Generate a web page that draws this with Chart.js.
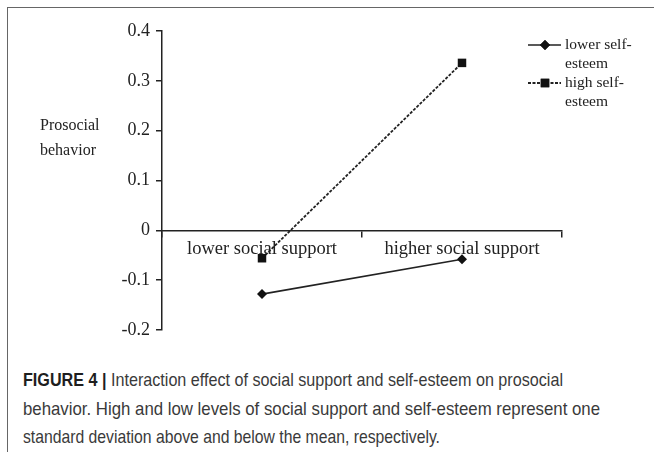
<!DOCTYPE html>
<html>
<head>
<meta charset="utf-8">
<script src="https://cdn.jsdelivr.net/npm/chart.js@4.4.0/dist/chart.umd.min.js"></script>
<style>
    html, body { margin: 0; padding: 0; background: #fff; }
    #wrap { position: relative; width: 654px; height: 452px; overflow: hidden; }
    #frame {
        position: absolute; left: 7px; top: 7px; width: 660px; height: 460px;
        border-left: 1.5px solid #666; border-top: 1.5px solid #666;
    }
    #chartBox { position: absolute; left: 0; top: 0; width: 654px; height: 350px; }
    #ytitle {
        position: absolute; left: 40px; top: 112px;
        font-family: 'Liberation Serif', 'Times New Roman', serif;
        font-size: 16px; line-height: 25px; color: #222;
    }
    #caption {
        position: absolute; left: 23px; top: 366px; width: 640px;
        font-family: 'Liberation Sans', Arial, sans-serif;
        font-size: 18.5px; line-height: 28.5px; color: #3a3a3a;
    }
    #caption .linea { white-space: nowrap; }
    #caption .linea span { display: inline-block; transform-origin: 0 50%; }
    #caption b { color: #1e1e1e; }
</style>
</head>
<body>
<div id="wrap">
    <div id="frame"></div>
    <div id="chartBox"><canvas id="chartInteraccion"></canvas></div>
    <div id="ytitle">Prosocial<br>behavior</div>
    <div id="caption">
        <div class="linea" data-w="540"><span><b>FIGURE 4 |</b> Interaction effect of social support and self-esteem on prosocial</span></div>
        <div class="linea" data-w="577"><span>behavior. High and low levels of social support and self-esteem represent one</span></div>
        <div class="linea" data-w="417"><span>standard deviation above and below the mean, respectively.</span></div>
    </div>
</div>
<script>
// ===== Datos =====
const categorias = ['lower social support', 'higher social support'];
const autoestimaBaja = [-0.128, -0.058];
const autoestimaAlta = [-0.056, 0.336];
const etiquetasSeries = [['lower self-', 'esteem'], ['high self-', 'esteem']];
const ticksY = [-0.2, -0.1, 0, 0.1, 0.2, 0.3, 0.4];

const fuenteSerif = "'Liberation Serif', 'Times New Roman', serif";
const tinta = '#222';

// Ajustar el ancho de cada linea del pie de figura (fuente condensada)
document.querySelectorAll('#caption .linea').forEach(function(linea) {
    const span = linea.querySelector('span');
    const objetivo = parseFloat(linea.dataset.w);
    const actual = span.getBoundingClientRect().width;
    if (actual > 0) {
        span.style.transform = 'scaleX(' + (objetivo / actual).toFixed(4) + ')';
    }
});

// Leyenda dibujada a mano (linea + marcador + texto en dos lineas)
const leyendaPlugin = {
    id: 'leyendaManual',
    afterDraw(chart) {
        const ctx = chart.ctx;
        const filas = [45, 83];
        chart.data.datasets.forEach(function(ds, i) {
            const y = filas[i];
            ctx.save();
            ctx.strokeStyle = ds.borderColor;
            ctx.lineWidth = ds.borderWidth;
            ctx.setLineDash(ds.borderDash || []);
            ctx.beginPath();
            ctx.moveTo(528, y);
            ctx.lineTo(561, y);
            ctx.stroke();
            ctx.setLineDash([]);
            Chart.helpers.drawPoint(ctx, {
                pointStyle: ds.pointStyle,
                radius: ds.pointRadius,
                borderWidth: 0,
                rotation: 0
            }, 545, y);
            ctx.fillStyle = ds.backgroundColor;
            ctx.fill();
            ctx.fillStyle = tinta;
            ctx.font = '15.5px ' + fuenteSerif;
            ctx.textBaseline = 'middle';
            etiquetasSeries[i].forEach(function(t, j) {
                ctx.fillText(t, 565, y + j * 18.5);
            });
            ctx.restore();
        });
    }
};

const ctxInteraccion = document.getElementById('chartInteraccion');
new Chart(ctxInteraccion, {
    type: 'line',
    data: {
        labels: categorias,
        datasets: [{
            label: 'lower self-esteem',
            data: autoestimaBaja,
            borderColor: tinta,
            backgroundColor: '#111',
            borderWidth: 1.6,
            pointStyle: 'rectRot',
            pointRadius: 5,
            pointBorderWidth: 0,
            pointBackgroundColor: '#111',
            tension: 0
        }, {
            label: 'high self-esteem',
            data: autoestimaAlta,
            borderColor: tinta,
            backgroundColor: '#111',
            borderWidth: 1.8,
            borderDash: [3, 1.5],
            pointStyle: 'rect',
            pointRadius: 6,
            pointBorderWidth: 0,
            pointBackgroundColor: '#111',
            tension: 0
        }]
    },
    options: {
        responsive: true,
        maintainAspectRatio: false,
        animation: false,
        layout: {
            padding: { left: 0, top: 31, right: 92, bottom: 20 }
        },
        plugins: {
            legend: { display: false },
            tooltip: { enabled: false }
        },
        scales: {
            x: {
                type: 'category',
                offset: true,
                position: { y: 0 },
                border: { display: true, color: tinta, width: 1.5 },
                grid: {
                    offset: true,
                    drawOnChartArea: false,
                    drawTicks: true,
                    tickLength: 6,
                    color: tinta,
                    lineWidth: 1.5
                },
                ticks: {
                    color: tinta,
                    font: { family: fuenteSerif, size: 18.5 },
                    padding: 2,
                    maxRotation: 0,
                    autoSkip: false
                }
            },
            y: {
                min: -0.2,
                max: 0.4,
                afterFit: function(scale) { scale.width = 162; },
                afterBuildTicks: function(scale) {
                    scale.ticks = ticksY.map(function(v) { return { value: v }; });
                },
                border: { display: true, color: tinta, width: 1.5 },
                grid: {
                    drawOnChartArea: false,
                    drawTicks: true,
                    tickLength: 6,
                    color: tinta,
                    lineWidth: 1.5
                },
                ticks: {
                    color: tinta,
                    font: { family: fuenteSerif, size: 18 },
                    padding: 6,
                    callback: function(v) {
                        const r = Math.round(v * 10) / 10;
                        return r === 0 ? '0' : r.toFixed(1);
                    }
                }
            }
        }
    },
    plugins: [leyendaPlugin]
});
</script>
</body>
</html>
